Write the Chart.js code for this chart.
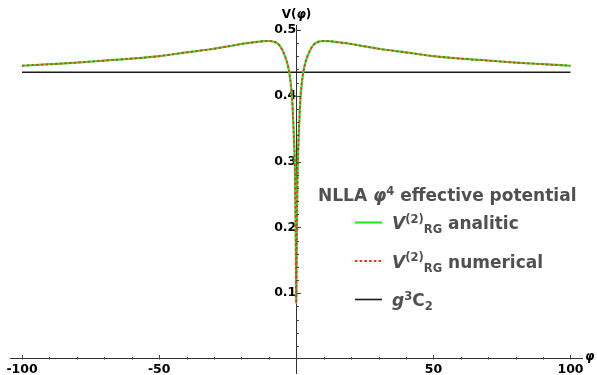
<!DOCTYPE html>
<html>
<head>
<meta charset="utf-8">
<script src="https://cdn.jsdelivr.net/npm/chart.js@4.4.1/dist/chart.umd.min.js"></script>
<style>
  html, body { margin: 0; padding: 0; background: #fff; }
  #wrap { width: 597px; height: 375px; position: relative; }
</style>
</head>
<body>
<div id="wrap"><canvas id="chart"></canvas></div>
<script>
// field values phi and the potential
const phi = [-100, -90, -80, -70, -60, -50, -40, -30, -25, -20, -15, -12, -10, -8, -7, -6, -5, -4, -3, -2.5, -2, -1.5, -1.1, -0.8, -0.5, -0.3, -0.2, -0.1, -0.05,
  0, 0.05, 0.1, 0.2, 0.3, 0.5, 0.8, 1.1, 1.5, 2, 2.5, 3, 4, 5, 6, 7, 8, 10, 12, 15, 20, 25, 30, 40, 50, 60, 70, 80, 90, 100]
const vAnalytic = [0.4457, 0.448, 0.4505, 0.4535, 0.4565, 0.4603, 0.466, 0.4715, 0.475, 0.4787, 0.4815, 0.483, 0.4833, 0.482, 0.48, 0.476, 0.469, 0.459, 0.445, 0.434, 0.418, 0.395, 0.36, 0.33, 0.29, 0.23, 0.19, 0.14, 0.10,
  0.085, 0.10, 0.14, 0.19, 0.23, 0.29, 0.33, 0.36, 0.395, 0.418, 0.434, 0.445, 0.459, 0.469, 0.476, 0.48, 0.482, 0.4833, 0.483, 0.4815, 0.4787, 0.475, 0.4715, 0.466, 0.4603, 0.4565, 0.4535, 0.4505, 0.448, 0.4457]
const vNumerical = [0.4457, 0.448, 0.4505, 0.4535, 0.4565, 0.4603, 0.466, 0.4715, 0.475, 0.4787, 0.4815, 0.483, 0.4833, 0.482, 0.48, 0.476, 0.469, 0.459, 0.445, 0.434, 0.418, 0.395, 0.36, 0.33, 0.29, 0.23, 0.19, 0.14, 0.10,
  0.085, 0.10, 0.14, 0.19, 0.23, 0.29, 0.33, 0.36, 0.395, 0.418, 0.434, 0.445, 0.459, 0.469, 0.476, 0.48, 0.482, 0.4833, 0.483, 0.4815, 0.4787, 0.475, 0.4715, 0.466, 0.4603, 0.4565, 0.4535, 0.4505, 0.448, 0.4457]
const g3C2Range = [-100, 100]
const g3C2 = 0.4357

// ticks
const xTicks = [-100, -90, -80, -70, -60, -50, -40, -30, -20, -10, 10, 20, 30, 40, 50, 60, 70, 80, 90, 100]
const xLabels = [-100, -50, 50, 100]
const yTicks = [0.02, 0.04, 0.06, 0.08, 0.1, 0.12, 0.14, 0.16, 0.18, 0.2, 0.22, 0.24, 0.26, 0.28, 0.3,
  0.32, 0.34, 0.36, 0.38, 0.4, 0.42, 0.44, 0.46, 0.48, 0.5]
const yLabels = [0.1, 0.2, 0.3, 0.4, 0.5]

// legend text: [text, kind] with kind '' | 'i' | 'sup' | 'sub'
const legendTitle = [['NLLA ', ''], ['φ', 'i'], ['4', 'sup'], [' effective potential', '']]
const legendLabels = [
  [['V', 'i'], ['(2)', 'sup'], ['RG', 'sub'], [' analitic', '']],
  [['V', 'i'], ['(2)', 'sup'], ['RG', 'sub'], [' numerical', '']],
  [['g', 'i'], ['3', 'sup'], ['C', ''], ['2', 'sub']]
]

const FONT = '"DejaVu Sans"'
const isIn = (list, v) => list.some(l => Math.abs(l - v) < 1e-9)

function drawRuns(ctx, runs, x, y, size) {
  runs.forEach(([text, kind]) => {
    let s = size, dy = 0
    if (kind === 'sup') { s = size * 0.68; dy = -size * 0.36 }
    if (kind === 'sub') { s = size * 0.68; dy = size * 0.24 }
    ctx.font = `${kind === 'i' ? 'italic ' : ''}bold ${s}px ${FONT}`
    ctx.fillText(text, x, y + dy)
    x += ctx.measureText(text).width
  })
}

const axisMarks = {
  id: 'axisMarks',
  afterDraw(chart) {
    const { ctx, scales: { x, y } } = chart
    const x0 = Math.round(x.getPixelForValue(0)) + 0.5
    const y0 = Math.round(y.getPixelForValue(0)) + 0.5
    ctx.save()
    ctx.strokeStyle = '#444'
    ctx.lineWidth = 1
    ctx.beginPath()
    xTicks.forEach(v => {
      const px = Math.round(x.getPixelForValue(v)) + 0.5
      ctx.moveTo(px, y0)
      ctx.lineTo(px, y0 - (isIn(xLabels, v) ? 4.5 : 2.5))
    })
    yTicks.forEach(v => {
      const py = Math.round(y.getPixelForValue(v)) + 0.5
      ctx.moveTo(x0, py)
      ctx.lineTo(x0 + (isIn(yLabels, v) ? 4.5 : 2.5), py)
    })
    ctx.stroke()

    ctx.fillStyle = '#000'
    ctx.textBaseline = 'alphabetic'
    ctx.textAlign = 'left'
    ctx.font = `bold 12px ${FONT}`
    const w1 = ctx.measureText('V(').width, w2 = ctx.measureText(')').width
    ctx.font = `italic bold 12px ${FONT}`
    const w3 = ctx.measureText('φ').width
    drawRuns(ctx, [['V(', ''], ['φ', 'i'], [')', '']], x0 - (w1 + w2 + w3) / 2, 18, 12)
    drawRuns(ctx, [['φ', 'i']], 585, 360, 12)
    ctx.restore()
  }
}

const legendBox = {
  id: 'legendBox',
  afterDraw(chart) {
    const { ctx } = chart
    ctx.save()
    ctx.fillStyle = '#505050'
    ctx.textAlign = 'left'
    ctx.textBaseline = 'alphabetic'
    drawRuns(ctx, legendTitle, 318, 201, 17)
    legendLabels.forEach((runs, i) => {
      const ds = chart.data.datasets[i]
      const ly = 222.5 + i * 38.5
      ctx.save()
      ctx.strokeStyle = ds.borderColor
      ctx.lineWidth = ds.borderWidth
      ctx.setLineDash(ds.borderDash || [])
      ctx.beginPath()
      ctx.moveTo(355, ly)
      ctx.lineTo(382, ly)
      ctx.stroke()
      ctx.restore()
      drawRuns(ctx, runs, 392, ly + 6.5, 17)
    })
    ctx.restore()
  }
}

const noPad = s => { s.paddingTop = 0; s.paddingBottom = 0; s.paddingLeft = 0; s.paddingRight = 0 }

new Chart(document.getElementById('chart'), {
  type: 'line',
  data: {
    datasets: [
      {
        label: 'analitic',
        data: phi.map((p, i) => ({ x: p, y: vAnalytic[i] })),
        borderColor: '#22ee22',
        borderWidth: 2.2,
        pointRadius: 0,
        cubicInterpolationMode: 'monotone',
        order: 2
      },
      {
        label: 'numerical',
        data: phi.map((p, i) => ({ x: p, y: vNumerical[i] })),
        borderColor: '#ff2a2a',
        borderWidth: 1.8,
        borderDash: [2.5, 2.2],
        pointRadius: 0,
        cubicInterpolationMode: 'monotone',
        order: 1
      },
      {
        label: 'g3C2',
        data: g3C2Range.map(p => ({ x: p, y: g3C2 })),
        borderColor: '#1a1a1a',
        borderWidth: 1.6,
        pointRadius: 0,
        order: 3
      }
    ]
  },
  options: {
    responsive: true,
    maintainAspectRatio: false,
    animation: false,
    events: [],
    layout: { padding: { left: 10, right: 15, top: 25, bottom: 2 } },
    plugins: { legend: { display: false }, tooltip: { enabled: false } },
    scales: {
      x: {
        type: 'linear',
        min: -104.4,
        max: 104.2,
        position: { y: 0 },
        afterBuildTicks: s => { s.ticks = xTicks.map(v => ({ value: v })) },
        afterFit: noPad,
        grid: { drawOnChartArea: false, drawTicks: false },
        border: { display: true, color: '#333', width: 1 },
        ticks: {
          autoSkip: false,
          maxRotation: 0,
          padding: 3,
          color: '#000',
          font: { family: FONT, size: 12.5, weight: 'bold' },
          callback: v => isIn(xLabels, v) ? String(v) : ''
        }
      },
      y: {
        type: 'linear',
        min: -0.0213,
        max: 0.5076,
        position: { x: 0 },
        afterBuildTicks: s => { s.ticks = yTicks.map(v => ({ value: v })) },
        afterFit: noPad,
        grid: { drawOnChartArea: false, drawTicks: false },
        border: { display: true, color: '#333', width: 1 },
        ticks: {
          autoSkip: false,
          padding: 4,
          color: '#000',
          font: { family: FONT, size: 12.5, weight: 'bold' },
          callback: v => isIn(yLabels, v) ? v.toFixed(1) : ''
        }
      }
    }
  },
  plugins: [axisMarks, legendBox]
})
</script>
</body>
</html>
